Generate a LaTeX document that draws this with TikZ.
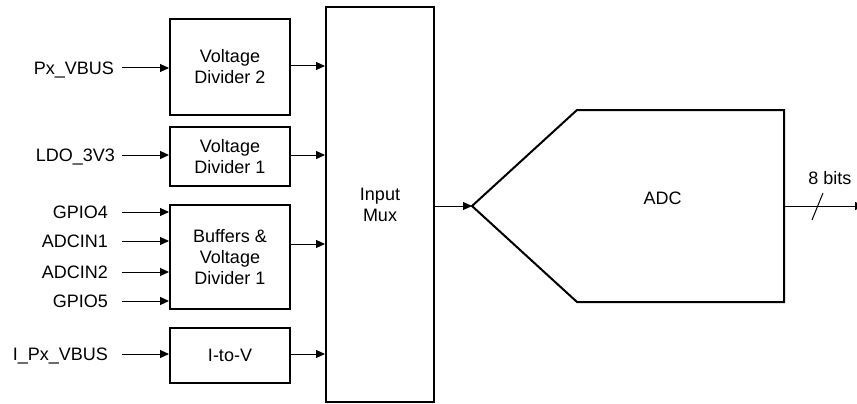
\documentclass[tikz,border=0pt]{standalone}
\usepackage{fontspec}
\setmainfont{Liberation Sans}
\usetikzlibrary{arrows.meta}
\begin{document}
\begin{tikzpicture}[x=1pt,y=-1pt,
  box/.style={draw, line width=2pt, minimum width=120pt, align=center, inner sep=0pt},
  lbl/.style={inner sep=0pt, text height=12.9pt, text depth=0pt, anchor=east},
  arr/.style={line width=1pt, -{Triangle[length=9pt,width=8pt]}},
  every node/.style={font=\fontsize{18}{21}\selectfont}]
\useasboundingbox (0,0) rectangle (857,404);
% blocks
\node[box, minimum height=96pt] (vd2) at (230,67) {Voltage\\Divider 2};
\node[box, minimum height=59pt] (vd1) at (230,156.5) {Voltage\\Divider 1};
\node[box, minimum height=104pt] (buf) at (230,257) {Buffers \&\\Voltage\\Divider 1};
\node[box, minimum height=55pt] (itov) at (230,355.5) {I-to-V};
\node[box, minimum width=108pt, minimum height=395pt] (mux) at (380,204.5) {Input\\Mux};
% ADC shape
\coordinate (tip) at (472,206);
\coordinate (adcTL) at (577,110);
\coordinate (adcTR) at (784,110);
\coordinate (adcBR) at (784,302);
\coordinate (adcBL) at (577,302);
\draw[line width=2pt, line join=miter] (tip) -- (adcTL) -- (adcTR) -- (adcBR) -- (adcBL) -- cycle;
\node (adc) at (662.5,198.5) {ADC};
\coordinate (adcout) at (784,206);
\coordinate (outend) at (864,206);
% output ports of blocks
\coordinate (o1) at ([yshift=1pt]vd2.east);
\coordinate (o2) at ([yshift=1.5pt]vd1.east);
\coordinate (o3) at ([yshift=13pt]buf.east);
\coordinate (o4) at ([yshift=1.5pt]itov.east);
% input labels
\node[lbl] (p1) at (114,68) {Px\_VBUS};
\node[lbl] (p2) at (115,155) {LDO\_3V3};
\node[lbl] (p3) at (108,212) {GPIO4};
\node[lbl] (p4) at (108,241) {ADCIN1};
\node[lbl] (p5) at (108,272) {ADCIN2};
\node[lbl] (p6) at (108,301) {GPIO5};
\node[lbl] (p7) at (108,354) {I\_Px\_VBUS};
% input arrows
\draw[arr] ([xshift=8pt]p1.east) -- (vd2.west |- p1.east);
\draw[arr] ([xshift=7pt]p2.east) -- (vd1.west |- p2.east);
\draw[arr] ([xshift=14pt]p3.east) -- (buf.west |- p3.east);
\draw[arr] ([xshift=14pt]p4.east) -- (buf.west |- p4.east);
\draw[arr] ([xshift=14pt]p5.east) -- (buf.west |- p5.east);
\draw[arr] ([xshift=14pt]p6.east) -- (buf.west |- p6.east);
\draw[arr] ([xshift=14pt]p7.east) -- (itov.west |- p7.east);
% block to mux arrows
\draw[arr] (o1) -- (mux.west |- o1);
\draw[arr] (o2) -- (mux.west |- o2);
\draw[arr] (o3) -- (mux.west |- o3);
\draw[arr] (o4) -- (mux.west |- o4);
% mux to ADC
\draw[arr] (mux.east |- tip) -- (tip);
% output
\begin{scope}
\clip (0,0) rectangle (857,404);
\draw[arr] (adcout) -- (outend);
\end{scope}
\draw[line width=1pt] (812,220) -- (823,193);
\node (bits) at (830,178.5) {8 bits};
\end{tikzpicture}
\end{document}
